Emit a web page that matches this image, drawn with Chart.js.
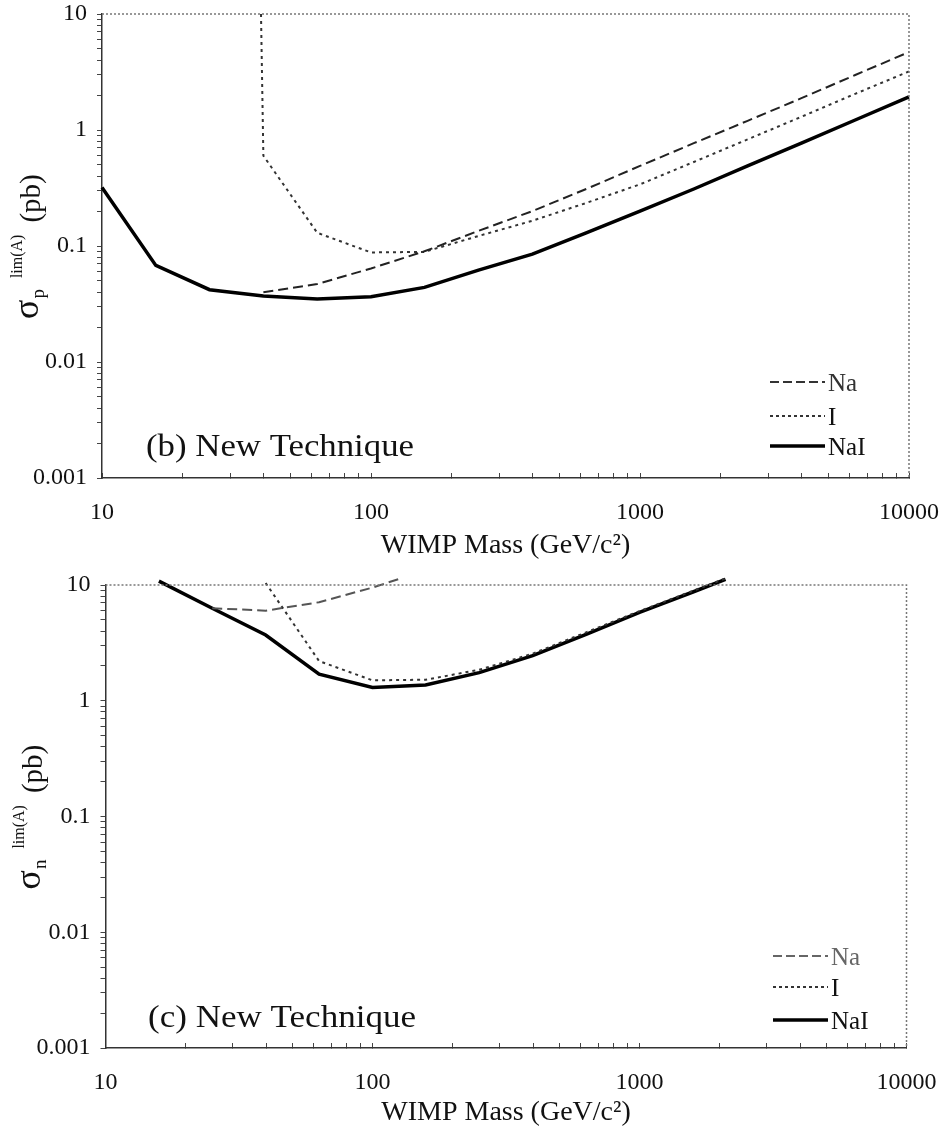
<!DOCTYPE html>
<html>
<head>
<meta charset="utf-8">
<script src="https://cdn.jsdelivr.net/npm/chart.js@4"></script>
<style>
  body { margin: 0; background: #fff; }
  canvas { position: absolute; left: 0; }
  #chartB { top: 0; }
  #chartC { top: 565px; }
</style>
</head>
<body>
<canvas id="chartB" width="947" height="565"></canvas>
<canvas id="chartC" width="947" height="568"></canvas>
<script>
// --- tick labels
const xTickLabels = ["10", "100", "1000", "10000"];
const yTickLabels = ["0.001", "0.01", "0.1", "1", "10"];

// --- panel (b): sigma_p limits (pb) vs WIMP mass (GeV/c^2)
const massB_Na = [39.8, 63.1, 100, 158, 251, 398, 631, 1000, 1585, 2512, 3981, 6310, 10000];
const sigB_Na = [0.040, 0.047, 0.064, 0.090, 0.135, 0.20, 0.31, 0.49, 0.77, 1.2, 1.88, 2.98, 4.7];
const massB_I = [39.0, 39.8, 63.1, 100, 158, 251, 398, 631, 1000, 1585, 2512, 3981, 6310, 10000];
const sigB_I = [10, 0.6, 0.13, 0.088, 0.089, 0.122, 0.165, 0.235, 0.34, 0.53, 0.83, 1.3, 2.05, 3.2];
const massB_NaI = [10, 15.85, 25.1, 39.8, 63.1, 100, 158, 251, 398, 631, 1000, 1585, 2512, 3981, 6310, 10000];
const sigB_NaI = [0.32, 0.068, 0.042, 0.037, 0.035, 0.0365, 0.044, 0.062, 0.085, 0.13, 0.2, 0.31, 0.49, 0.77, 1.22, 1.93];

// --- panel (c): sigma_n limits (pb)
const massC_Na = [25.1, 39.8, 63.1, 100, 126];
const sigC_Na = [6.3, 6.0, 7.1, 9.5, 11.3];
const massC_I = [39.8, 63.1, 100, 158, 251, 398, 631, 1000, 1585, 2100];
const sigC_I = [10.4, 2.2, 1.5, 1.52, 1.85, 2.55, 3.9, 5.95, 8.9, 11.4];
const massC_NaI = [15.85, 25.1, 39.8, 63.1, 100, 158, 251, 398, 631, 1000, 1585, 2100];
const sigC_NaI = [10.8, 6.3, 3.7, 1.7, 1.3, 1.37, 1.75, 2.45, 3.75, 5.8, 8.7, 11.2];

const SERIF = '"Liberation Serif", "DejaVu Serif", serif';

// 1..9 x 10^e for every decade -> minor + major tick marks
function decadeTicks(lo, hi) {
  const out = [];
  for (let e = lo; e < hi; e++)
    for (let m = 1; m < 10; m++) out.push(Number((m * Math.pow(10, e)).toPrecision(3)));
  out.push(Math.pow(10, hi));
  return out;
}

function labelFor(list, v) {
  const hit = list.find(l => Math.abs(Number(l) - v) / v < 1e-6);
  return hit === undefined ? "" : hit;
}

function pts(xs, ys) { return xs.map((x, i) => ({ x, y: ys[i] })); }

// no extra label overhang padding, the layout padding sets the plot box
function noOverhang(s) { s.paddingLeft = 0; s.paddingRight = 0; s.paddingTop = 0; s.paddingBottom = 0; }

// decorations: dotted top/right frame, legend, panel tag, y title
const decoPlugin = {
  id: "deco",
  afterDraw(chart) {
    const o = chart.options.plugins.deco;
    const { ctx, chartArea: a } = chart;
    ctx.save();
    // dotted frame
    ctx.strokeStyle = "#777";
    ctx.lineWidth = 1.5;
    ctx.setLineDash([2, 2]);
    ctx.beginPath();
    ctx.moveTo(a.left, a.top); ctx.lineTo(a.right, a.top); ctx.lineTo(a.right, a.bottom);
    ctx.stroke();

    // legend
    const rows = [
      { txt: "Na", dash: [9, 4], w: 2, c: o.naColor },
      { txt: "I", dash: [3, 3], w: 2, c: "#333" },
      { txt: "NaI", dash: [], w: 3.5, c: "#000" }
    ];
    ctx.font = "25px " + SERIF;
    ctx.textBaseline = "middle";
    rows.forEach((r, i) => {
      const y = o.legendY[i];
      ctx.setLineDash(r.dash);
      ctx.strokeStyle = r.c;
      ctx.lineWidth = r.w;
      ctx.beginPath();
      ctx.moveTo(o.legendX, y); ctx.lineTo(o.legendX + 55, y);
      ctx.stroke();
      ctx.fillStyle = i === 0 ? o.naColor : "#111";
      ctx.fillText(r.txt, o.legendX + 58, y + 2);
    });
    ctx.setLineDash([]);

    // panel tag (the original type is a bit wide, stretch to its width)
    ctx.save();
    ctx.fillStyle = "#111";
    ctx.font = "31px " + SERIF;
    const tw = ctx.measureText(o.tag).width;
    ctx.translate(o.tagX, o.tagY);
    ctx.scale(o.tagW / tw, 1);
    ctx.fillText(o.tag, 0, 0);
    ctx.restore();

    // rotated y title: sigma_sub^lim(A) (pb), read bottom to top
    ctx.fillStyle = "#111";
    ctx.translate(o.titleX, (a.top + a.bottom) / 2);
    ctx.rotate(-Math.PI / 2);
    ctx.textBaseline = "alphabetic";
    let x = -73;
    ctx.font = "36px " + SERIF; ctx.fillText("σ", x, -2); x += ctx.measureText("σ").width + 1;
    ctx.font = "19px " + SERIF; ctx.fillText(o.sub, x, 4); x += ctx.measureText(o.sub).width + 11;
    ctx.font = "16px " + SERIF; ctx.fillText("lim(A)", x, -18); x += ctx.measureText("lim(A)").width + 12;
    ctx.font = "29px " + SERIF; ctx.fillText("(pb)", x, 0);
    ctx.restore();
  }
};

function makeChart(id, cfg) {
  const xTicks = decadeTicks(1, 4);
  const yTicks = decadeTicks(-3, 1);
  return new Chart(document.getElementById(id), {
    type: "line",
    data: { datasets: cfg.datasets },
    options: {
      responsive: false,
      devicePixelRatio: 1,
      animation: false,
      events: [],
      layout: { padding: cfg.padding },
      plugins: { legend: { display: false }, tooltip: { enabled: false }, deco: cfg.deco },
      elements: { point: { radius: 0 }, line: { tension: 0 } },
      scales: {
        x: {
          type: "logarithmic", min: 10, max: 10000,
          afterBuildTicks: s => { s.ticks = xTicks.map(v => ({ value: v })); },
          afterFit: s => { s.height = cfg.xHeight; noOverhang(s); },
          ticks: {
            autoSkip: false, maxRotation: 0, padding: 25, color: "#111",
            font: { family: SERIF, size: 24 },
            callback: v => labelFor(xTickLabels, v)
          },
          grid: { drawOnChartArea: false, drawTicks: true, tickLength: -5, color: "#444", lineWidth: 1 },
          border: { display: true, color: "#333", width: 1.5 },
          title: {
            display: true, text: "WIMP Mass (GeV/c²)", color: "#111",
            font: { family: SERIF, size: 28 }, padding: { top: 0, bottom: cfg.titlePad }
          }
        },
        y: {
          type: "logarithmic", min: 0.001, max: 10,
          afterBuildTicks: s => { s.ticks = yTicks.map(v => ({ value: v })); },
          afterFit: s => { s.width = cfg.yWidth; noOverhang(s); },
          ticks: {
            autoSkip: false, padding: 10, color: "#111",
            font: { family: SERIF, size: 24 },
            callback: v => labelFor(yTickLabels, v)
          },
          grid: { drawOnChartArea: false, drawTicks: true, tickLength: 5, color: "#444", lineWidth: 1 },
          border: { display: true, color: "#333", width: 1.5 }
        }
      }
    },
    plugins: [decoPlugin]
  });
}

function series(xs, ys, kind, naColor) {
  const base = { data: pts(xs, ys), fill: false, clip: false };
  if (kind === "Na") return { ...base, label: "Na", borderColor: naColor, borderWidth: 2, borderDash: [10, 5] };
  if (kind === "I") return { ...base, label: "I", borderColor: "#333", borderWidth: 2, borderDash: [3, 4] };
  return { ...base, label: "NaI", borderColor: "#000", borderWidth: 3.5 };
}

makeChart("chartB", {
  padding: { top: 14, right: 38, left: 0, bottom: 0 },
  yWidth: 102, xHeight: 87, titlePad: 3,
  datasets: [
    series(massB_Na, sigB_Na, "Na", "#222"),
    series(massB_I, sigB_I, "I"),
    series(massB_NaI, sigB_NaI, "NaI")
  ],
  deco: { naColor: "#333", legendX: 770, legendY: [382, 416, 446], tag: "(b) New Technique", tagX: 146, tagY: 448, tagW: 268, sub: "p", titleX: 40 }
});

makeChart("chartC", {
  padding: { top: 20, right: 40.5, left: 0, bottom: 0 },
  yWidth: 105.5, xHeight: 85, titlePad: 4,
  datasets: [
    series(massC_Na, sigC_Na, "Na", "#555"),
    series(massC_I, sigC_I, "I"),
    series(massC_NaI, sigC_NaI, "NaI")
  ],
  deco: { naColor: "#666", legendX: 773, legendY: [391, 422, 455], tag: "(c) New Technique", tagX: 148, tagY: 454, tagW: 268, sub: "n", titleX: 42 }
});
</script>
</body>
</html>
